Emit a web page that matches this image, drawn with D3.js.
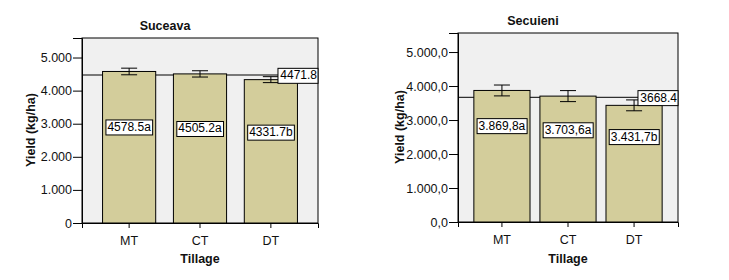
<!DOCTYPE html>
<html>
<head>
<meta charset="utf-8">
<script src="https://cdn.jsdelivr.net/npm/d3@7"></script>
<style>
  body { margin: 0; background: #fff; }
  svg { display: block; font-family: "Liberation Sans", Arial, sans-serif; }
</style>
</head>
<body>
<div id="chart"></div>
<script>
// data
const tillage = ["MT", "CT", "DT"];
const yTicks = [0, 1000, 2000, 3000, 4000, 5000];

const suceavaYield = [4578.5, 4505.2, 4331.7];
const suceavaErr = [100, 95, 90];
const suceavaLetters = ["a", "a", "b"];
const suceavaMean = 4471.8;

const secuieniYield = [3869.8, 3703.6, 3431.7];
const secuieniErr = [160, 162, 160];
const secuieniLetters = ["a", "a", "b"];
const secuieniMean = 3668.4;

let w = 729, h = 280;

let viz = d3.select("#chart")
  .append("svg")
  .attr("width", w)
  .attr("height", h);

// european style numbers (dot for thousands, comma for decimal)
let euro = d3.formatLocale({decimal: ",", thousands: ".", grouping: [3], currency: ["", ""]});

function drawPanel(opt){
  let xScale = d3.scaleBand()
    .domain(tillage)
    .range([opt.left, opt.right])
    .paddingInner(opt.padIn)
    .paddingOuter(opt.padOut);

  let yScale = d3.scaleLinear()
    .domain([0, opt.yMax])
    .range([opt.bottom, opt.top]);

  let g = viz.append("g");

  // grey plot background
  g.append("rect")
    .attr("x", opt.left)
    .attr("y", opt.top)
    .attr("width", opt.right - opt.left)
    .attr("height", opt.bottom - opt.top)
    .attr("fill", "#f0f0f0")
    .attr("stroke", "#000")
    .attr("stroke-width", 1);

  // reference (overall mean) line, sits behind the bars
  let meanY = yScale(opt.mean);
  g.append("line")
    .attr("x1", opt.left)
    .attr("x2", opt.right)
    .attr("y1", meanY)
    .attr("y2", meanY)
    .attr("stroke", "#000")
    .attr("stroke-width", 1);

  let data = tillage.map(function(t, i){
    return {t: t, v: opt.values[i], e: opt.errs[i], l: opt.letters[i]};
  });

  g.selectAll(".bar").data(data).enter()
    .append("rect")
    .attr("class", "bar")
    .attr("x", d => xScale(d.t))
    .attr("y", d => yScale(d.v))
    .attr("width", xScale.bandwidth())
    .attr("height", d => opt.bottom - yScale(d.v))
    .attr("fill", "#d3cd9b")
    .attr("stroke", "#000")
    .attr("stroke-width", 1);

  // error bars
  let cap = 8;
  let eb = g.selectAll(".err").data(data).enter().append("g").attr("class", "err");
  eb.append("line")
    .attr("x1", d => xScale(d.t) + xScale.bandwidth()/2)
    .attr("x2", d => xScale(d.t) + xScale.bandwidth()/2)
    .attr("y1", d => yScale(d.v + d.e))
    .attr("y2", d => yScale(d.v - d.e));
  eb.append("line")
    .attr("x1", d => xScale(d.t) + xScale.bandwidth()/2 - cap)
    .attr("x2", d => xScale(d.t) + xScale.bandwidth()/2 + cap)
    .attr("y1", d => yScale(d.v + d.e))
    .attr("y2", d => yScale(d.v + d.e));
  eb.append("line")
    .attr("x1", d => xScale(d.t) + xScale.bandwidth()/2 - cap)
    .attr("x2", d => xScale(d.t) + xScale.bandwidth()/2 + cap)
    .attr("y1", d => yScale(d.v - d.e))
    .attr("y2", d => yScale(d.v - d.e));
  eb.selectAll("line").attr("stroke", "#000").attr("stroke-width", 1);

  // value labels in white boxes
  let lab = g.selectAll(".lab").data(data).enter().append("g").attr("class", "lab");
  lab.append("text")
    .attr("x", d => xScale(d.t) + xScale.bandwidth()/2)
    .attr("y", d => yScale(d.v * opt.labelFrac))
    .attr("dy", "0.36em")
    .attr("text-anchor", "middle")
    .attr("font-size", 12)
    .attr("fill", "#000")
    .text(d => opt.valFmt(d.v) + d.l);
  lab.each(function(){
    let t = d3.select(this).select("text");
    let b = t.node().getBBox();
    d3.select(this).insert("rect", "text")
      .attr("x", b.x - 1.5)
      .attr("y", b.y)
      .attr("width", b.width + 3)
      .attr("height", b.height + 1)
      .attr("fill", "#fff")
      .attr("stroke", "#000")
      .attr("stroke-width", 1);
  });

  // mean label box at right edge
  let mg = g.append("g");
  let mt = mg.append("text")
    .attr("x", opt.right - 1)
    .attr("y", meanY)
    .attr("dy", "0.36em")
    .attr("text-anchor", "end")
    .attr("font-size", 12)
    .attr("fill", "#000")
    .text(d3.format(".1f")(opt.mean));
  let mb = mt.node().getBBox();
  mg.insert("rect", "text")
    .attr("x", opt.right - mb.width - 3)
    .attr("y", mb.y)
    .attr("width", mb.width + 3)
    .attr("height", mb.height + 1)
    .attr("fill", "#fff")
    .attr("stroke", "#000")
    .attr("stroke-width", 1);

  // axes
  let yAxis = d3.axisLeft(yScale).tickValues(yTicks).tickFormat(opt.tickFmt)
    .tickSize(9).tickPadding(1);
  let yAxisGroup = viz.append("g").attr("class", "yaxis")
    .attr("transform", "translate(" + opt.left + ",0)")
    .call(yAxis);

  let xAxis = d3.axisBottom(xScale).tickSize(5).tickPadding(8);
  let xAxisGroup = viz.append("g").attr("class", "xaxis")
    .attr("transform", "translate(0," + opt.bottom + ")")
    .call(xAxis);
  xAxisGroup.select(".domain").attr("stroke", "#000");

  viz.selectAll(".yaxis text, .xaxis text")
    .attr("font-size", 12.5)
    .attr("fill", "#111")
    .attr("font-family", "Liberation Sans, Arial, sans-serif");
  viz.selectAll(".yaxis .domain").attr("stroke", "#000");

  // titles
  viz.append("text")
    .attr("x", (opt.left + opt.right)/2 - 35)
    .attr("y", opt.top - 8)
    .attr("text-anchor", "middle")
    .attr("font-size", 12.5)
    .attr("font-weight", "bold")
    .attr("fill", "#111")
    .text(opt.title);

  viz.append("text")
    .attr("x", (opt.left + opt.right)/2)
    .attr("y", 263)
    .attr("text-anchor", "middle")
    .attr("font-size", 12.5)
    .attr("font-weight", "bold")
    .attr("fill", "#111")
    .text("Tillage");

  viz.append("text")
    .attr("transform", "translate(" + opt.yLabX + "," + opt.yLabY + ") rotate(-90)")
    .attr("text-anchor", "middle")
    .attr("dy", "0.36em")
    .attr("font-size", 12.5)
    .attr("font-weight", "bold")
    .attr("fill", "#111")
    .text("Yield (kg/ha)");
}

drawPanel({
  title: "Suceava",
  values: suceavaYield, errs: suceavaErr, letters: suceavaLetters, mean: suceavaMean,
  left: 82, right: 318, top: 38, bottom: 223, yMax: 5590,
  padIn: 0.25, padOut: 0.29, labelFrac: 0.636,
  tickFmt: euro.format(",.0f"),
  valFmt: d3.format(".1f"),
  yLabX: 30, yLabY: 130
});

drawPanel({
  title: "Secuieni",
  values: secuieniYield, errs: secuieniErr, letters: secuieniLetters, mean: secuieniMean,
  left: 458, right: 678, top: 33, bottom: 222, yMax: 5560,
  padIn: 0.15, padOut: 0.24, labelFrac: 0.735,
  tickFmt: euro.format(",.1f"),
  valFmt: euro.format(",.1f"),
  yLabX: 399, yLabY: 127
});
</script>
</body>
</html>
